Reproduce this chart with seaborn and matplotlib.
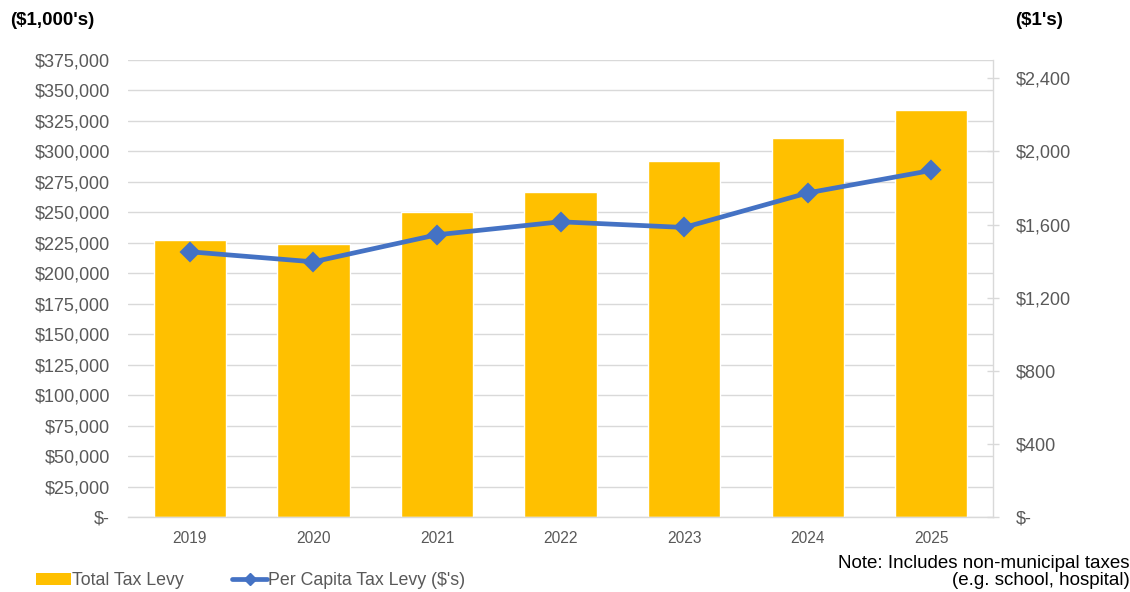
import matplotlib
matplotlib.use("Agg")
import matplotlib.pyplot as plt
from matplotlib.ticker import FuncFormatter, MultipleLocator
from matplotlib.patches import Patch
from matplotlib.lines import Line2D
import seaborn as sns
import pandas as pd

# Tax levy history
years = ["2019", "2020", "2021", "2022", "2023", "2024", "2025"]
total_levy = [227300, 224300, 250300, 266900, 292100, 311300, 334000]   # $1,000's
per_capita = [1451, 1396, 1544, 1615, 1584, 1773, 1896]                  # $1's

sns.set_theme(style="white")
plt.rcParams["font.family"] = ["Liberation Sans", "DejaVu Sans"]

GOLD = "#FFC000"
BLUE = "#4472C4"
GRID = "#D9D9D9"
TXT = "#595959"

df = pd.DataFrame({"year": years, "levy": total_levy, "pc": per_capita})

fig = plt.figure(figsize=(11.30, 5.92), dpi=100)
ax = fig.add_axes([0.1133, 0.1267, 0.8788 - 0.1133, 0.8986 - 0.1267])

sns.barplot(data=df, x="year", y="levy", color=GOLD, saturation=1,
            width=0.585, ax=ax, zorder=2)
ax.set_ylim(0, 375000)
ax.yaxis.set_major_locator(MultipleLocator(25000))


def money(v, pos=None):
    if abs(v) < 1e-9:
        return "$-"
    return "${:,.0f}".format(v)


ax.yaxis.set_major_formatter(FuncFormatter(money))
ax.grid(axis="y", color=GRID, linewidth=1.0, zorder=0)
ax.set_axisbelow(True)
ax.set_xlabel("")
ax.set_ylabel("")
for s in ["top", "left", "right"]:
    ax.spines[s].set_visible(False)
ax.spines["bottom"].set_color(GRID)
ax.spines["bottom"].set_linewidth(1.0)
ax.tick_params(axis="y", length=0, pad=13, labelsize=13, labelcolor=TXT)
ax.tick_params(axis="x", length=0, pad=10, labelsize=11.2, labelcolor=TXT)

ax2 = ax.twinx()
sns.pointplot(data=df, x="year", y="pc", color=BLUE, markers="D",
              linewidth=3.4, markersize=8, ax=ax2, zorder=3)
ax2.set_ylim(0, 2500)
ax2.yaxis.set_major_locator(MultipleLocator(400))
ax2.set_ylim(0, 2500)
ax2.yaxis.set_major_formatter(FuncFormatter(money))
ax2.set_ylabel("")
ax2.set_xlabel("")
ax2.grid(False)
for s in ["top", "left", "bottom"]:
    ax2.spines[s].set_visible(False)
ax2.spines["right"].set_color(GRID)
ax2.spines["right"].set_linewidth(1.0)
ax2.tick_params(axis="y", direction="inout", length=9, width=1.0, color=GRID,
                pad=12, labelsize=13, labelcolor=TXT)
ax.set_xlim(-0.5, 6.5)
ax2.set_xlim(-0.5, 6.5)

fig.text(0.009, 0.966, "($1,000's)", fontsize=13.5, fontweight="bold",
         color="#000000", ha="left", va="center")
fig.text(0.898, 0.966, "($1's)", fontsize=13.5, fontweight="bold",
         color="#000000", ha="left", va="center")

fig.text(0.9995, 0.034, "Note: Includes non-municipal taxes\n(e.g. school, hospital)",
         fontsize=13.5, color="#000000", ha="right", va="center",
         multialignment="right", linespacing=1.0)

handles = [
    Patch(facecolor=GOLD, edgecolor="none", label="Total Tax Levy"),
    Line2D([0], [0], color=BLUE, linewidth=3.4, marker="D", markersize=6.5,
           label="Per Capita Tax Levy ($'s)"),
]
leg = fig.legend(handles=handles, loc="center left", bbox_to_anchor=(0.0257, 0.019),
                 ncol=2, frameon=False, fontsize=12.8, handlelength=1.95,
                 handletextpad=0.05, columnspacing=2.75, borderaxespad=0)
for t in leg.get_texts():
    t.set_color(TXT)

fig.savefig("out.png", dpi=100)
